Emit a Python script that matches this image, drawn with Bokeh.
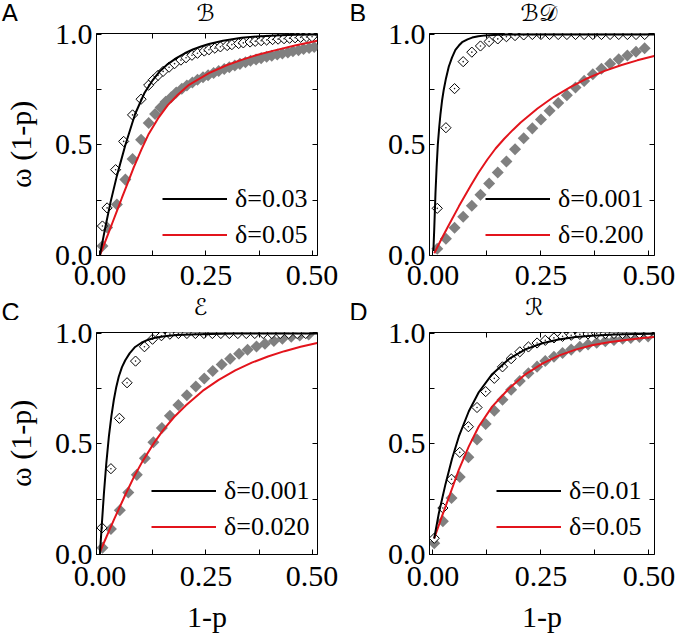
import math
from bokeh.plotting import figure
from bokeh.models import (FixedTicker, LinearAxis, Range1d, Legend, LegendItem,
                          NumeralTickFormatter)
from bokeh.core.properties import value
from bokeh.layouts import row, column
from bokeh.embed import file_html
from bokeh.resources import INLINE

# ---------------- data ----------------
panel_letters = ["A", "B", "C", "D"]
panel_titles = ["\u212C", "\u212C\U0001D49F", "\u2130", "\u211B"]
legend_labels = [["δ=0.03", "δ=0.05"], ["δ=0.001", "δ=0.200"],
                 ["δ=0.001", "δ=0.020"], ["δ=0.01", "δ=0.05"]]
x_ticks = [0.0, 0.25, 0.5]
x_tick_labels = ["0.00", "0.25", "0.50"]
x_minor = [0.125, 0.375]
y_ticks = [0.0, 0.5, 1.0]
y_tick_labels = ["0.0", "0.5", "1.0"]
y_minor = [0.25, 0.75]
x_label = "1-p"
y_label = "ω (1-p)"

# Panel A
a_open_x = [0.006, 0.017, 0.037, 0.056, 0.077, 0.097, 0.115, 0.126, 0.137, 0.149, 0.163, 0.176,
            0.191, 0.203, 0.217, 0.23, 0.246, 0.257, 0.271, 0.284, 0.3, 0.311, 0.327, 0.338,
            0.354, 0.366, 0.38, 0.393, 0.407, 0.42, 0.434, 0.447, 0.46, 0.473, 0.487, 0.5]
a_open_y = [0.133, 0.215, 0.388, 0.516, 0.636, 0.707, 0.771, 0.795, 0.815, 0.833, 0.852, 0.868,
            0.884, 0.895, 0.906, 0.915, 0.925, 0.931, 0.938, 0.944, 0.95, 0.954, 0.959, 0.962,
            0.966, 0.969, 0.972, 0.975, 0.977, 0.979, 0.981, 0.983, 0.985, 0.987, 0.989, 0.99]
a_gray_x = [0.006, 0.017, 0.04, 0.06, 0.077, 0.097, 0.115, 0.13, 0.143, 0.155, 0.168, 0.18,
            0.193, 0.205, 0.218, 0.23, 0.243, 0.255, 0.268, 0.28, 0.293, 0.305, 0.318, 0.33,
            0.343, 0.355, 0.368, 0.38, 0.393, 0.405, 0.418, 0.43, 0.443, 0.455, 0.468, 0.48,
            0.493, 0.505]
a_gray_y = [0.043, 0.126, 0.23, 0.343, 0.436, 0.523, 0.599, 0.64, 0.67, 0.695, 0.716, 0.737,
            0.754, 0.769, 0.783, 0.795, 0.806, 0.816, 0.826, 0.835, 0.844, 0.852, 0.86, 0.867,
            0.874, 0.881, 0.887, 0.893, 0.899, 0.904, 0.909, 0.914, 0.919, 0.924, 0.929, 0.934,
            0.939, 0.943]
a_black_x = [0.0, 0.007, 0.0134, 0.025, 0.04, 0.06, 0.083, 0.105, 0.125, 0.142, 0.16, 0.18,
             0.2, 0.219, 0.24, 0.257, 0.29, 0.334, 0.37, 0.412, 0.46, 0.512]
a_black_y = [0.0, 0.07, 0.133, 0.24, 0.36, 0.5, 0.64, 0.735, 0.795, 0.835, 0.866, 0.893,
             0.915, 0.932, 0.947, 0.957, 0.972, 0.985, 0.991, 0.996, 0.999, 1.0]
a_red_x = [0.0, 0.01, 0.02, 0.03, 0.04, 0.052, 0.065, 0.08, 0.098, 0.115, 0.137, 0.16, 0.183,
           0.21, 0.257, 0.3, 0.334, 0.37, 0.412, 0.46, 0.512]
a_red_y = [0.0, 0.05, 0.1, 0.15, 0.2, 0.261, 0.325, 0.4, 0.48, 0.55, 0.62, 0.68, 0.726,
           0.772, 0.825, 0.862, 0.885, 0.907, 0.928, 0.95, 0.972]

# Panel B
b_x = [0.01, 0.03, 0.05, 0.07, 0.09, 0.11, 0.13, 0.15, 0.17, 0.19, 0.21, 0.23, 0.25, 0.27,
       0.29, 0.31, 0.33, 0.35, 0.37, 0.39, 0.41, 0.43, 0.45, 0.47, 0.49]
b_open_y = [0.213, 0.578, 0.755, 0.877, 0.92, 0.948, 0.968, 0.98, 0.99, 0.995, 0.998, 1.0,
            1.0, 1.0, 1.0, 1.0, 1.0, 1.0, 1.0, 1.0, 1.0, 1.0, 1.0, 1.0, 1.0]
b_gray_y = [0.03, 0.075, 0.125, 0.175, 0.225, 0.275, 0.325, 0.375, 0.425, 0.48, 0.53, 0.575,
            0.615, 0.655, 0.69, 0.725, 0.76, 0.79, 0.82, 0.845, 0.868, 0.888, 0.905, 0.922, 0.938]
b_black_x = [0.001, 0.003, 0.0058, 0.0085, 0.0112, 0.0145, 0.0174, 0.021, 0.025, 0.03, 0.0367,
             0.044, 0.052, 0.06, 0.0675, 0.08, 0.0907, 0.105, 0.1215, 0.15, 0.2, 0.3, 0.4, 0.512]
b_black_y = [0.02, 0.12, 0.28, 0.4, 0.5, 0.58, 0.64, 0.7, 0.75, 0.8, 0.855, 0.895, 0.93, 0.95,
             0.965, 0.978, 0.986, 0.992, 0.996, 0.999, 1.0, 1.0, 1.0, 1.0]
b_red_x = [0.003, 0.02, 0.034, 0.06, 0.0876, 0.105, 0.126, 0.145, 0.165, 0.185, 0.203, 0.242,
           0.28, 0.319, 0.358, 0.396, 0.435, 0.473, 0.512]
b_red_y = [0.01, 0.075, 0.127, 0.222, 0.316, 0.373, 0.434, 0.484, 0.528, 0.568, 0.602, 0.665,
           0.718, 0.763, 0.802, 0.834, 0.861, 0.883, 0.903]

# Panel C
c_open_x = [0.005, 0.026, 0.046, 0.064, 0.084, 0.105, 0.124, 0.145, 0.165, 0.185, 0.205, 0.225,
            0.245, 0.265, 0.285, 0.305, 0.325, 0.345, 0.365, 0.385, 0.405, 0.425, 0.445, 0.465,
            0.485]
c_open_y = [0.12, 0.388, 0.616, 0.777, 0.875, 0.94, 0.974, 0.99, 0.997, 1.0, 1.0, 1.0, 1.0, 1.0,
            1.0, 1.0, 1.0, 1.0, 1.0, 1.0, 1.0, 1.0, 1.0, 1.0, 1.0]
c_gray_x = [0.006, 0.026, 0.047, 0.067, 0.087, 0.106, 0.126, 0.146, 0.165, 0.185, 0.205, 0.226,
            0.246, 0.266, 0.287, 0.307, 0.328, 0.348, 0.369, 0.389, 0.41, 0.43, 0.451, 0.471,
            0.492]
c_gray_y = [0.03, 0.115, 0.2, 0.28, 0.36, 0.435, 0.508, 0.572, 0.628, 0.676, 0.72, 0.76, 0.796,
            0.83, 0.86, 0.886, 0.908, 0.926, 0.941, 0.954, 0.966, 0.976, 0.985, 0.991, 0.996]
c_black_x = [0.0, 0.004, 0.0096, 0.015, 0.0212, 0.027, 0.0328, 0.0385, 0.0444, 0.052, 0.0598,
             0.07, 0.083, 0.098, 0.1138, 0.13, 0.152, 0.18, 0.214, 0.26, 0.32, 0.4, 0.512]
c_black_y = [0.0, 0.12, 0.279, 0.41, 0.534, 0.625, 0.699, 0.757, 0.804, 0.848, 0.879, 0.91,
             0.939, 0.958, 0.972, 0.981, 0.988, 0.993, 0.996, 0.998, 1.0, 1.0, 1.0]
c_red_x = [0.0, 0.01, 0.02, 0.035, 0.06, 0.08, 0.1, 0.126, 0.15, 0.175, 0.203, 0.242, 0.28,
           0.319, 0.358, 0.396, 0.435, 0.473, 0.512]
c_red_y = [0.01, 0.055, 0.1, 0.165, 0.27, 0.35, 0.42, 0.5, 0.565, 0.622, 0.675, 0.74, 0.79,
           0.833, 0.868, 0.896, 0.92, 0.94, 0.957]

# Panel D
d_x = [0.003, 0.023, 0.043, 0.062, 0.082, 0.102, 0.122, 0.142, 0.161, 0.181, 0.201, 0.221,
       0.241, 0.26, 0.28, 0.3, 0.32, 0.34, 0.359, 0.379, 0.399, 0.419, 0.439, 0.458, 0.478, 0.498]
d_open_y = [0.073, 0.21, 0.34, 0.462, 0.578, 0.665, 0.737, 0.797, 0.849, 0.886, 0.917, 0.939,
            0.957, 0.969, 0.98, 0.987, 0.992, 0.996, 0.998, 1.0, 1.0, 1.0, 1.0, 1.0, 1.0, 1.0]
d_gray_y = [0.05, 0.15, 0.255, 0.35, 0.44, 0.52, 0.59, 0.65, 0.7, 0.745, 0.785, 0.82, 0.85,
            0.875, 0.895, 0.912, 0.927, 0.94, 0.95, 0.958, 0.965, 0.971, 0.976, 0.98, 0.984, 0.987]
d_black_x = [0.003, 0.0135, 0.029, 0.044, 0.06, 0.083, 0.106, 0.137, 0.176, 0.214, 0.253, 0.291,
             0.33, 0.368, 0.42, 0.47, 0.512]
d_black_y = [0.073, 0.185, 0.318, 0.432, 0.534, 0.648, 0.734, 0.816, 0.885, 0.928, 0.956, 0.973,
             0.984, 0.99, 0.995, 0.998, 0.999]
d_red_x = [0.003, 0.021, 0.0405, 0.06, 0.083, 0.106, 0.137, 0.176, 0.214, 0.253, 0.291, 0.33,
           0.368, 0.407, 0.446, 0.48, 0.512]
d_red_y = [0.073, 0.173, 0.278, 0.384, 0.489, 0.579, 0.669, 0.751, 0.815, 0.864, 0.9, 0.927,
           0.947, 0.96, 0.971, 0.978, 0.984]

# ---------------- styling / layout ----------------
XR = (-0.008, 0.5128)
YR = (-0.0005, 1.0045)
SERIF = "Liberation Serif"
RED = "#e3141c"
GRAY = "#808080"
TOTAL_W = 677


def make_panel(i, ox, oy, gx, gy, bx, by, rx, ry, width, height, mb_left, mb_right, mb_top,
               mb_bottom, show_ylabel, show_xlabel, leg_loc):
    p = figure(width=width, height=height, x_range=Range1d(*XR), y_range=Range1d(*YR),
               output_backend="svg", toolbar_location=None, title=None,
               min_border_left=mb_left, min_border_right=mb_right,
               min_border_top=mb_top, min_border_bottom=mb_bottom)
    p.xgrid.visible = False
    p.ygrid.visible = False
    p.outline_line_color = "black"
    p.outline_line_alpha = 1.0
    p.outline_line_width = 1
    p.background_fill_color = "white"
    p.border_fill_color = "white"

    xa = p.xaxis[0]
    xa.ticker = FixedTicker(ticks=x_ticks, minor_ticks=x_minor)
    xa.formatter = NumeralTickFormatter(format="0.00")
    xa.major_label_overrides = dict(zip(x_ticks, x_tick_labels))
    ya = p.yaxis[0]
    ya.ticker = FixedTicker(ticks=y_ticks, minor_ticks=y_minor)
    ya.formatter = NumeralTickFormatter(format="0.0")
    ya.major_label_overrides = dict(zip(y_ticks, y_tick_labels))
    for ax in (xa, ya):
        ax.major_tick_in = 5
        ax.major_tick_out = 0
        ax.minor_tick_in = 5
        ax.minor_tick_out = 0
        ax.major_tick_line_color = "black"
        ax.minor_tick_line_color = "black"
        ax.axis_line_color = "black"
        ax.major_label_text_font = SERIF
        ax.major_label_text_font_size = "30px"
        ax.major_label_text_color = "black"
        ax.axis_label_text_font = SERIF
        ax.axis_label_text_font_style = "normal"
        ax.axis_label_text_color = "black"
    xa.major_label_standoff = 12 if show_xlabel else 10
    ya.major_label_standoff = 4
    if show_ylabel:
        ya.axis_label = y_label
        ya.axis_label_text_font_size = "30px"
        ya.axis_label_standoff = 15
    if show_xlabel:
        xa.axis_label = x_label
        xa.axis_label_text_font_size = "30px"
        xa.axis_label_standoff = 11

    # mirrored tick marks on top / right
    top = LinearAxis(ticker=FixedTicker(ticks=[], minor_ticks=x_minor + [0.25]))
    right = LinearAxis(ticker=FixedTicker(ticks=[], minor_ticks=y_minor + [0.5]))
    for ax in (top, right):
        ax.axis_line_color = None
        ax.minor_tick_in = 5
        ax.minor_tick_out = 0
        ax.major_tick_in = 0
        ax.major_tick_out = 0
        ax.minor_tick_line_color = "black"
        ax.major_label_text_font_size = "1px"
        ax.major_label_standoff = 0
    p.add_layout(top, "above")
    p.add_layout(right, "right")

    # data
    p.scatter(gx, gy, marker="square", size=8.5, angle=math.pi / 4,
              fill_color=GRAY, line_color=None)
    p.scatter(ox, oy, marker="square", size=7.2, angle=math.pi / 4,
              fill_color="white", line_color="black", line_width=1)
    p.scatter(ox, oy, marker="circle", size=1.6, fill_color="#222222", line_color=None)
    rr = p.line(rx, ry, line_color=RED, line_width=2)
    rb = p.line(bx, by, line_color="black", line_width=2)

    leg = Legend(items=[LegendItem(label=legend_labels[i][0], renderers=[rb]),
                        LegendItem(label=legend_labels[i][1], renderers=[rr])],
                 location=leg_loc, orientation="vertical",
                 glyph_width=65, glyph_height=33, label_height=33, label_standoff=8,
                 spacing=3, padding=0, margin=0,
                 border_line_alpha=0, background_fill_alpha=0,
                 label_text_font=SERIF, label_text_font_size="26px",
                 label_text_color="black")
    p.add_layout(leg)
    return p


def make_header(height, letters, letter_x, letter_mid, titles, title_x, title_mid):
    # texts are positioned by the vertical centre of their glyphs (pixels from the top)
    h = figure(frame_width=TOTAL_W, frame_height=height,
               x_range=Range1d(0, TOTAL_W), y_range=Range1d(0, height),
               x_axis_type=None, y_axis_type=None, title=None,
               output_backend="svg", toolbar_location=None,
               min_border=0, min_border_left=0, min_border_right=0,
               min_border_top=0, min_border_bottom=0)
    h.xgrid.visible = False
    h.ygrid.visible = False
    h.outline_line_color = None
    h.background_fill_color = "white"
    h.border_fill_color = "white"
    h.text(x=letter_x, y=[height - letter_mid] * len(letters), text=letters,
           text_font=value("Liberation Sans"), text_font_size="25px",
           text_align="left", text_baseline="middle", text_color="black")
    h.text(x=title_x, y=[height - title_mid] * len(titles), text=titles,
           text_font=value("DejaVu Sans"), text_font_size="23px",
           text_align="center", text_baseline="middle", text_color="black")
    return h


head1 = make_header(21, panel_letters[:2], [1, 349], 12.5, panel_titles[:2], [205, 538], 12.5)
head2 = make_header(28, panel_letters[2:], [1, 349], 19, panel_titles[2:], [200, 534], 14)

pA = make_panel(0, a_open_x, a_open_y, a_gray_x, a_gray_y, a_black_x, a_black_y,
                a_red_x, a_red_y, 345, 271, 92, 28, 12, 37, True, False, (66, 4))
pB = make_panel(1, b_x, b_open_y, b_x, b_gray_y, b_black_x, b_black_y,
                b_red_x, b_red_y, 332, 271, 84, 23, 12, 37, False, False, (56, 4))
pC = make_panel(2, c_open_x, c_open_y, c_gray_x, c_gray_y, c_black_x, c_black_y,
                c_red_x, c_red_y, 345, 315, 92, 28, 12, 81, True, True, (55, 11))
pD = make_panel(3, d_x, d_open_y, d_x, d_gray_y, d_black_x, d_black_y,
                d_red_x, d_red_y, 332, 315, 84, 23, 12, 81, False, True, (67, 11))

layout = column(head1, row(pA, pB), head2, row(pC, pD))
open("out.html", "w").write(file_html(layout, INLINE))
